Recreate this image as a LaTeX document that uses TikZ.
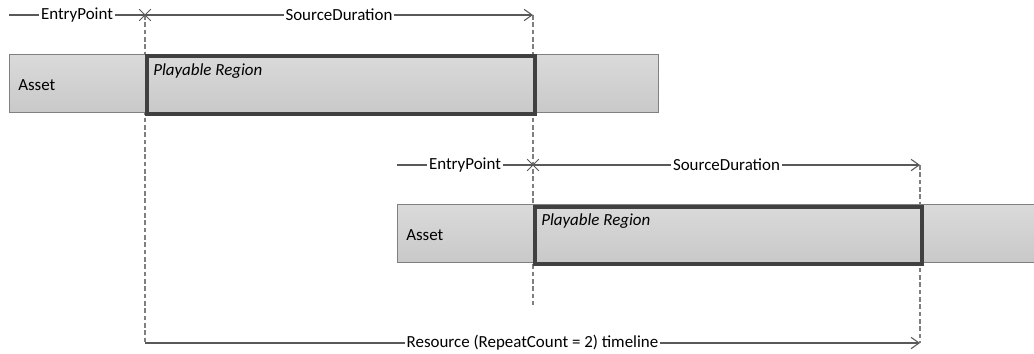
\documentclass[tikz,border=0pt]{standalone}
\usepackage{fontspec}
\setmainfont{Carlito}
\usetikzlibrary{arrows.meta,shapes.misc}
\definecolor{linegray}{HTML}{595959}
\definecolor{guidegray}{HTML}{7F7F7F}
\definecolor{boxedge}{HTML}{808080}
\definecolor{thickedge}{HTML}{404040}
\definecolor{filltop}{HTML}{DADADA}
\definecolor{fillbot}{HTML}{C9C9C9}
\tikzset{
  dimline/.style={draw=linegray, line width=0.8pt},
  dimarrow/.style={dimline, -{Straight Barb[length=6pt,width=8.5pt,line width=0.8pt]}},
  lbl/.style={fill=white, inner sep=1.5pt, text=black, font=\fontsize{12.7pt}{14pt}\selectfont},
  xmark/.style={cross out, draw=linegray, line width=0.7pt, minimum size=8pt, inner sep=0pt},
  guide/.style={draw=guidegray, line width=0.8pt, dash pattern=on 3.5pt off 2pt},
  assetbox/.style={draw=boxedge, line width=0.75pt, top color=filltop, bottom color=fillbot, anchor=north west, inner sep=0pt},
  playbox/.style={draw=thickedge, line width=3pt, anchor=north west, inner sep=0pt},
  boxtext/.style={inner sep=0pt, text=black, font=\fontsize{12.7pt}{14pt}\selectfont},
}
\begin{document}
\begin{tikzpicture}[x=0.75pt,y=-0.75pt]
\useasboundingbox (0,0) rectangle (1034,353);
% coordinates
\coordinate (a0) at (9,15);
\coordinate (a1) at (145,15);
\coordinate (a2) at (533,15);
\coordinate (b0) at (397,165);
\coordinate (b1) at (533,165);
\coordinate (b2) at (920,165);
\coordinate (c1) at (145,343);
\coordinate (c2) at (920,343);
\coordinate (d1) at (533,305);
% guides
\draw[guide] (a1) -- (c1);
\draw[guide] (a2) -- (d1);
\draw[guide] (b2) -- (c2);
% row 1
\node[assetbox, minimum width=649*0.75pt, minimum height=58*0.75pt] (assetA) at (9,54) {};
\node[playbox, minimum width=388*0.75pt, minimum height=57*0.75pt] (playA) at (145,54.5) {};
\node[boxtext, anchor=west] (assetAtxt) at ([xshift=9*0.75pt,yshift=-1pt]assetA.west) {Asset};
\node[boxtext, anchor=north west] (playAtxt) at ([xshift=8*0.75pt,yshift=-9*0.75pt]playA.north west) {\itshape Playable Region};
\draw[dimline] (a0) -- node[lbl] (epA) {EntryPoint} (a1);
\draw[dimarrow] (a1) -- node[lbl] (sdA) {SourceDuration} (a2);
\node[xmark] (xA) at (a1) {};
% row 2
\node[assetbox, minimum width=640*0.75pt, minimum height=58*0.75pt] (assetB) at (397,204) {};
\node[playbox, minimum width=387*0.75pt, minimum height=57*0.75pt] (playB) at (533,204.5) {};
\node[boxtext, anchor=west] (assetBtxt) at ([xshift=9*0.75pt,yshift=-1pt]assetB.west) {Asset};
\node[boxtext, anchor=north west] (playBtxt) at ([xshift=8*0.75pt,yshift=-9*0.75pt]playB.north west) {\itshape Playable Region};
\draw[dimline] (b0) -- node[lbl] (epB) {EntryPoint} (b1);
\draw[dimarrow] (b1) -- node[lbl] (sdB) {SourceDuration} (b2);
\node[xmark] (xB) at (b1) {};
% timeline
\draw[dimarrow] (c1) -- node[lbl] (tl) {Resource (RepeatCount = 2) timeline} (c2);
\end{tikzpicture}
\end{document}
